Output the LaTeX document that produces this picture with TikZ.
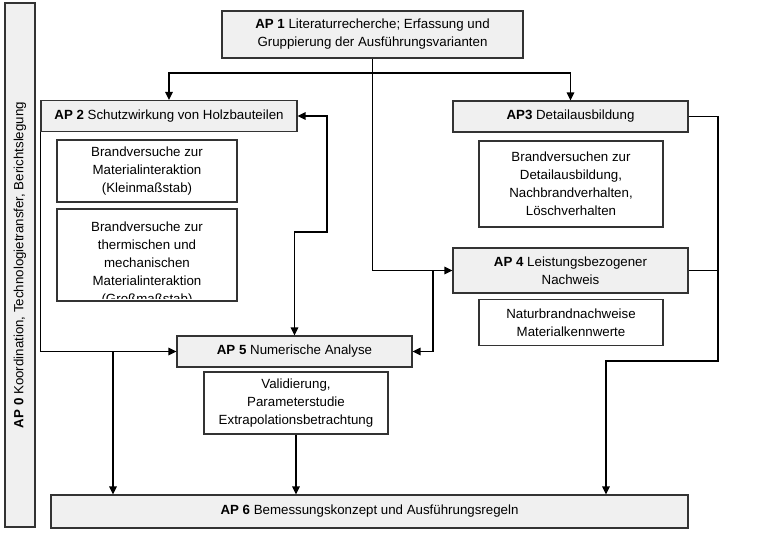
\documentclass[tikz,border=0pt]{standalone}
\usepackage{fontspec}
\setmainfont{Liberation Sans}
\usetikzlibrary{arrows.meta,calc}
\definecolor{hdrfill}{HTML}{F0F0F0}
\definecolor{edge}{HTML}{333333}
\begin{document}
\begin{tikzpicture}[x=1pt,y=-1pt,
  txt/.style={font=\fontsize{13.3}{18}\selectfont, align=center, inner sep=0pt},
  hdr/.style={txt, draw=edge, fill=hdrfill, line width=1.1pt},
  sub/.style={txt, draw=edge, fill=white, line width=1.1pt},
  conn/.style={line width=1.4pt, draw=black},
  arr/.style={conn, -{Triangle[length=8pt,width=7.5pt]}},
  biarr/.style={conn, {Triangle[length=8pt,width=7.5pt]}-{Triangle[length=8pt,width=7.5pt]}}
]
\useasboundingbox (0,0) rectangle (760,539);

% AP0
\node[hdr, rotate=90, minimum width=524, minimum height=30] (AP0) at (20,265)
  {\textbf{AP 0} Koordination, Technologietransfer, Berichtslegung};

% AP1
\node[hdr, minimum width=301, minimum height=47] (AP1) at (372.5,34.5)
  {\textbf{AP 1} Literaturrecherche; Erfassung und\\Gruppierung der Ausführungsvarianten};

% AP2
\node[hdr, minimum width=256, minimum height=31] (AP2) at (169,116)
  {\textbf{AP 2} Schutzwirkung von Holzbauteilen};
\node[sub, minimum width=180, minimum height=62] (B1) at (147,171)
  {Brandversuche zur\\Materialinteraktion\\(Kleinmaßstab)};
\begin{scope}
  \clip (57,209) rectangle (237,298.5);
  \node[txt, anchor=north] (B2t) at (147,221.5)
    {Brandversuche zur\\thermischen und\\mechanischen\\Materialinteraktion\\(Großmaßstab)};
\end{scope}
\node[sub, fill=none, minimum width=180, minimum height=92] (B2) at (147,255) {};

% AP3
\node[hdr, minimum width=235, minimum height=31] (AP3) at (570.5,116.5)
  {\textbf{AP3} Detailausbildung};
\node[sub, minimum width=184, minimum height=86] (B3) at (571,184)
  {Brandversuchen zur\\Detailausbildung,\\Nachbrandverhalten,\\Löschverhalten};

% AP4
\node[hdr, minimum width=235, minimum height=45] (AP4) at (570.5,270.5)
  {\textbf{AP 4} Leistungsbezogener\\Nachweis};
\node[sub, minimum width=184, minimum height=46] (B4) at (571,322.5)
  {Naturbrandnachweise\\Materialkennwerte};

% AP5
\node[hdr, minimum width=235, minimum height=31] (AP5) at (294.5,351.5)
  {\textbf{AP 5} Numerische Analyse};
\node[sub, minimum width=184, minimum height=62] (B5) at (296,403)
  {Validierung,\\Parameterstudie\\Extrapolationsbetrachtung};

% AP6
\node[hdr, minimum width=637, minimum height=33] (AP6) at (369.5,511.5)
  {\textbf{AP 6} Bemessungskonzept und Ausführungsregeln};

% connectors
\coordinate (j1) at (AP1.south |- 0,73);
\draw[conn] (AP1.south) -- (j1);
\draw[arr] (j1) -| (AP2.north);
\draw[arr] (j1) -| (AP3.north);
\draw[arr] (j1) |- (AP4.west);
\coordinate (j2) at (433,0);
\draw[arr] (j2 |- AP4.west) |- (AP5.east);

\coordinate (r2) at (327,0);
\coordinate (m2) at (0,232);
\draw[biarr] (AP2.east) -- (r2 |- AP2.east) -- (r2 |- m2) -| (AP5.north);

\draw[arr] (AP2.south west) |- (AP5.west);
\coordinate (j3) at (113,0);
\draw[arr] (j3 |- AP5.west) -- (j3 |- AP6.north);

\draw[arr] (B5.south) -- (B5.south |- AP6.north);

\coordinate (r3) at (718,0);
\coordinate (m3) at (0,361);
\coordinate (t3) at (606,0);
\draw[arr] (AP3.east) -- (r3 |- AP3.east) -- (r3 |- m3) -| (t3 |- AP6.north);
\draw[conn] (AP4.east) -- (r3 |- AP4.east);
\end{tikzpicture}
\end{document}
